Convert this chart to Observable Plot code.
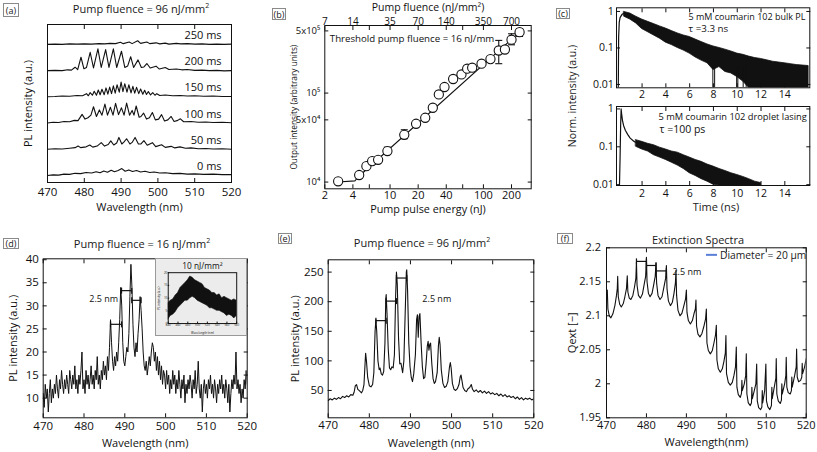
<!DOCTYPE html>
<html>
<head>
<meta charset="utf-8">
<script src="https://cdn.jsdelivr.net/npm/d3@7"></script>
<script src="https://cdn.jsdelivr.net/npm/@observablehq/plot@0.6"></script>
<style>
html,body{margin:0;padding:0;background:#fff;}
#fig{position:relative;width:817px;height:452px;overflow:hidden;font-family:"Open Sans",Lato,sans-serif;color:#1a1a1a;background:#fff;}
.t{position:absolute;white-space:nowrap;transform:translate(-50%,-50%);line-height:1;}
.rot{position:absolute;white-space:nowrap;transform:translate(-50%,-50%) rotate(-90deg);line-height:1;}
.tag{position:absolute;border:1px solid #8a8a8a;font-size:9px;line-height:1;display:flex;align-items:center;justify-content:center;box-sizing:border-box;}
.leg{position:absolute;white-space:nowrap;transform:translateY(-50%);line-height:1;display:flex;align-items:center;}
</style>
</head>
<body>
<div id="fig"></div>
<script>
// ================= DATA =================
// (a) time-resolved spectra, offset traces (wavelength nm, intensity a.u. above own baseline)
const aXTicks = [470, 480, 490, 500, 510, 520];
const aOffsets = [0, 1, 2, 3, 4, 5];
const aLabels = ["0 ms", "50 ms", "100 ms", "150 ms", "200 ms", "250 ms"];
const aTrace0 = [[470,0],[471.5,0.02],[473,0.01],[474.5,0.05],[476,0.04],[477.5,0.08],[479,0.07],[480.5,0.11],[482,0.09],[483.2,0.14],[484.3,0.1],[485.3,0.17],[486.3,0.12],[487.3,0.2],[488.2,0.14],[489.2,0.19],[490.2,0.26],[491.1,0.16],[492.1,0.21],[493.1,0.15],[494.2,0.19],[495.3,0.13],[496.5,0.16],[497.8,0.11],[499,0.13],[500.5,0.09],[502,0.1],[504,0.07],[506,0.08],[508,0.05],[510,0.06],[512.5,0.04],[515,0.05],[517.5,0.03],[520,0.03]];
const aTrace50 = [[470,0],[472,0.02],[474,0.01],[476,0.04],[477.5,0.06],[478.3,0.12],[479,0.06],[480.5,0.09],[481.5,0.16],[482.3,0.08],[483.5,0.12],[484.6,0.25],[485.5,0.12],[486.5,0.18],[487.2,0.32],[488,0.16],[488.8,0.24],[489.4,0.45],[490.2,0.2],[490.8,0.28],[491.5,0.4],[492.4,0.2],[493,0.26],[493.8,0.45],[494.7,0.2],[495.4,0.2],[496.2,0.33],[497.1,0.15],[498.5,0.25],[499.4,0.1],[501,0.17],[502,0.07],[503.6,0.11],[504.6,0.05],[506,0.09],[507.5,0.04],[509,0.05],[511,0.02],[513,0.03],[515,0.01],[517.5,0.02],[520,0]];
const aTrace100 = [[470,0],[471.5,0.03],[473,0.02],[474.5,0.06],[476,0.05],[477.3,0.1],[478.3,0.09],[479.4,0.33],[480.2,0.15],[481,0.2],[481.8,0.3],[482.5,0.62],[483.3,0.25],[484.1,0.5],[484.8,0.3],[485.6,0.72],[486.3,0.3],[487.1,0.6],[487.8,0.3],[488.5,0.75],[489.3,0.32],[490.1,0.58],[490.8,0.3],[491.5,0.76],[492.3,0.3],[493,0.48],[493.5,0.3],[494.1,0.65],[494.9,0.22],[495.4,0.25],[496.1,0.38],[496.9,0.15],[497.7,0.2],[498.5,0.4],[499.3,0.12],[500.2,0.15],[501,0.32],[501.8,0.08],[502.7,0.12],[503.6,0.25],[504.4,0.06],[505.4,0.1],[506.1,0.16],[507,0.05],[509,0.06],[511,0.03],[513,0.04],[515,0.02],[517.5,0.03],[520,0.01]];
const aTrace150 = [[470,0],[472,0.01],[474,0.03],[476,0.02],[478,0.05],[479.5,0.04],[480.6,0.12],[481.1,0.04],[481.6,0.16],[482.2,0.06],[482.7,0.21],[483.3,0.06],[483.8,0.26],[484.3,0.08],[484.8,0.29],[485.4,0.08],[485.9,0.34],[486.4,0.1],[486.9,0.37],[487.4,0.12],[487.9,0.42],[488.4,0.14],[488.9,0.46],[489.5,0.18],[490,0.56],[490.5,0.2],[491,0.5],[491.6,0.18],[492.1,0.46],[492.7,0.15],[493.2,0.4],[493.7,0.14],[494.2,0.36],[494.8,0.12],[495.3,0.3],[495.9,0.1],[496.4,0.25],[496.9,0.09],[497.4,0.2],[498,0.07],[498.6,0.16],[499.2,0.06],[499.7,0.12],[500.5,0.05],[502,0.07],[504,0.04],[506,0.05],[508,0.03],[510,0.04],[512.5,0.02],[515,0.03],[517.5,0.01],[520,0.01]];
const aTrace200 = [[470,0],[472,0.01],[474,0],[475.5,0.03],[476.5,0.02],[477.5,0.13],[478.2,0.04],[479.1,0.51],[479.9,0.07],[480.6,0.12],[481.6,0.7],[482.5,0.1],[483.7,0.83],[484.6,0.12],[485.8,0.8],[486.7,0.12],[487.9,0.83],[488.8,0.12],[490.1,0.74],[491,0.12],[491.8,0.18],[492.6,0.53],[493.4,0.12],[494.6,0.41],[495.5,0.12],[496.2,0.14],[497,0.27],[497.9,0.1],[499.5,0.17],[500.4,0.06],[502,0.12],[503,0.04],[505,0.06],[506.5,0.03],[508,0.04],[510,0.01],[512,0.02],[514,0],[516,0.01],[518,-0.01],[520,0]];
const aTrace250 = [[470,0],[472,0.01],[474,0],[476,0.02],[478,0.01],[480,0.02],[482,0.01],[484,0.03],[485.5,0.02],[487,0.04],[488.5,0.03],[489.8,0.08],[490.6,0.03],[492.2,0.09],[493,0.03],[494.5,0.14],[495.3,0.04],[497,0.09],[497.8,0.03],[499.5,0.06],[500.5,0.02],[502,0.05],[503,0.01],[505,0.04],[506.2,0.02],[508,0.03],[510,0.01],[512,0.02],[514,0],[516,0.01],[518,0],[520,0.01]];

// (b) input-output curve
const bEnergy = [2.78,4.67,5.58,6.43,7.45,9.37,14.2,19.0,23.8,28.7,33.3,38.3,47.4,58.2,67.0,75.8,95.5,119,146,170,200,244];
const bIntensity = [1.02e4,1.2e4,1.51e4,1.72e4,1.78e4,2.23e4,3.4e4,4.52e4,5.28e4,6.84e4,9.66e4,1.17e5,1.44e5,1.62e5,1.88e5,1.93e5,2.14e5,2.41e5,3.01e5,3.09e5,3.98e5,4.84e5];
const bErrEnergy = [5.58, 6.43, 9.37, 14.2, 146, 200, 244];
const bErrLow = [1.42e4, 1.62e4, 2.05e4, 3.07e4, 2.14e5, 3.49e5, 4.33e5];
const bErrHigh = [1.6e4, 1.82e4, 2.47e4, 3.87e4, 3.91e5, 4.64e5, 5.28e5];
const bFitEnergy = [2.78, 4.2, 4.67, 244];
const bFitIntensity = [1.0e4, 1.03e4, 1.17e4, 4.84e5];
const bXTicks = [2, 4, 6, 10, 20, 40, 60, 100, 200];
const bTopLabels = ["7", "14", "21", "35", "70", "140", "210", "350", "700"];
const bYTicks = [1e4, 5e4, 1e5, 5e5];
const bYLabels = ["10\u2074", "5x10\u2074", "10\u2075", "5x10\u2075"];

// (c) decay curves (time ns, normalized intensity) -- noise envelopes
const cTopRise = [[0.0,0.0081],[0.03,0.2],[0.08,0.5],[0.15,0.68],[0.3,0.82],[0.5,0.9]];
const cTopT  = [0.5,1,1.5,2,2.5,3,3.5,4,4.5,5,5.5,6,6.5,7,7.5,8,8.5,9,9.5,10,10.5,11,11.5,12,12.5,13,13.5,14,14.5,15,15.5,16];
const cTopHi = [0.97,0.88,0.72,0.6,0.52,0.45,0.39,0.34,0.29,0.25,0.22,0.2,0.17,0.145,0.125,0.11,0.1,0.09,0.08,0.07,0.065,0.058,0.053,0.05,0.046,0.042,0.04,0.038,0.036,0.034,0.033,0.032];
const cTopLo = [0.72,0.6,0.47,0.33,0.27,0.22,0.18,0.14,0.12,0.1,0.085,0.07,0.055,0.045,0.038,0.025,0.03,0.022,0.02,0.016,0.012,0.008,0.008,0.008,0.008,0.008,0.008,0.008,0.008,0.008,0.008,0.008];
const cTopSpikes = [7.95, 8.1, 9.95, 10.05, 10.5, 10.75];
const cBotRise = [[0.1,0.0095],[0.15,0.05],[0.2,0.4],[0.24,1.0],[0.28,0.75],[0.35,0.5],[0.45,0.36],[0.6,0.27],[0.8,0.21],[1.0,0.17],[1.3,0.14],[1.6,0.125]];
const cBotT  = [1.5,2,2.5,3,3.5,4,4.5,5,5.5,6,6.5,7,7.5,8,8.5,9,9.5,10,10.5,11,11.5,12];
const cBotHi = [0.15,0.135,0.12,0.11,0.095,0.085,0.075,0.07,0.06,0.052,0.045,0.04,0.034,0.03,0.026,0.023,0.02,0.018,0.016,0.014,0.012,0.011];
const cBotLo = [0.1,0.085,0.075,0.06,0.052,0.045,0.038,0.032,0.026,0.02,0.017,0.014,0.012,0.01,0.0095,0.0095,0.0095,0.0095,0.0095,0.0095,0.0095,0.0095];
const cXTicks = [2, 4, 6, 8, 10, 12, 14];
const cYTicks = [0.01, 0.1, 1];

// (d) spectrum at 16 nJ/mm2, sampled every 0.25 nm from 470 nm
const dWlStart = 470, dWlStep = 0.25;
const dValues = [
 11,8,13,10,12,7,11,14,9,12,10,13,11,15,12,10,14,12,16,13,
 11,14,12,15,13,11,16,14,12,15,13,17,12,14,11,15,13,16,20,12,
 14,11,16,13,15,12,14,17,13,15,12,16,14,19,13,15,12,16,14,18,
 15,17,14,19,16,21,27,22,18,16,19,17,20,18,22,27,34,30,22,18,
 17,19,21,20,24,32,39,34,26,21,19,22,20,24,27,32,29,25,20,17,
 16,18,15,17,19,17,20,22,21,18,20,16,19,15,18,14,17,13,16,15,
 12,16,13,15,11,14,12,16,13,15,11,14,12,16,13,10,14,12,15,9,
 13,11,14,12,15,13,10,14,12,16,11,13,18,12,10,13,7,12,14,11,
 13,10,14,12,15,11,13,10,14,12,9,13,11,14,12,15,11,13,10,14,
 12,9,13,7,11,14,12,15,13,20,12,14,11,13,9,12,10,14,12,16,
 13];
const dBrackets = [[486.5,489.2,26],[489.2,491.7,33.3],[491.7,494.0,31.2]];
const dXTicks = [470,480,490,500,510,520];
const dYTicks = [10,15,20,25,30,35,40];
// inset (10 nJ/mm2): noise envelope
const dInWl = [440,445,450,455,460,465,470,475,480,485,490,495,500,505,510,515,520,525,530,535,540,545,550,555,560,565,570,575,580];
const dInHi = [8,9,9.5,11,12,14,15,16,17,18.5,18,17,16.5,16,15.5,14,13.5,13,12,12,11,11.5,10,10.5,10,9.5,9,9.5,9];
const dInLo = [1.5,3,3.5,4.5,6,7,8,9,9,10,10.5,10,9,8.5,8,7.5,7,6,6,5.5,5,5,4.5,4,3,3.5,3,2,3];
const dInXTicks = [440,460,480,500,520,540,560,580];
const dInYTicks = [0,5,10,15,20];

// (e) spectrum at 96 nJ/mm2
const eSpec = [[470,33],[470.5,36],[471,34],[471.5,37],[472,35],[472.5,38],[473,36],[473.5,40],[474,38],[474.5,41],[475,39],[475.5,43],[476,42],[476.3,47],[476.6,58],[476.9,60],[477.2,52],[477.5,50],[477.8,48],[478.1,46],[478.4,50],[478.7,60],[479.0,100],[479.1,113],[479.3,100],[479.6,72],[480.0,58],[480.4,56],[480.8,60],[481.1,80],[481.4,150],[481.6,170],[481.8,150],[482.1,100],[482.4,85],[482.6,88],[482.9,78],[483.2,76],[483.5,82],[483.8,130],[484.0,205],[484.1,212],[484.3,180],[484.6,120],[484.9,88],[485.2,85],[485.5,90],[485.8,88],[486.1,110],[486.4,210],[486.6,250],[486.8,230],[487.1,140],[487.4,95],[487.7,96],[487.9,88],[488.1,80],[488.4,100],[488.8,200],[489.0,250],[489.1,254],[489.3,220],[489.6,130],[489.9,90],[490.2,72],[490.5,65],[490.8,78],[491.2,110],[491.5,170],[491.7,178],[491.9,140],[492.1,175],[492.3,180],[492.6,130],[492.9,90],[493.2,70],[493.5,72],[493.8,95],[494.1,125],[494.3,133],[494.5,118],[494.7,128],[494.9,130],[495.2,95],[495.5,70],[495.8,62],[496.1,65],[496.5,80],[496.8,125],[497.0,140],[497.2,128],[497.5,85],[497.9,62],[498.3,55],[498.7,57],[499.1,65],[499.5,90],[499.7,97],[499.9,88],[500.2,62],[500.6,52],[501.0,50],[501.4,53],[501.8,60],[502.1,73],[502.3,76],[502.5,68],[502.8,55],[503.2,50],[503.6,48],[504.0,53],[504.4,55],[504.8,60],[505.1,52],[505.5,48],[506.0,51],[506.5,47],[507.0,50],[507.5,46],[508.0,49],[508.5,45],[509.0,48],[509.5,44],[510.0,46],[510.5,43],[511.0,45],[511.5,41],[512.0,44],[512.5,40],[513.0,43],[513.5,39],[514.0,41],[514.5,38],[515.0,40],[515.5,36],[516.0,39],[516.5,35],[517.0,38],[517.5,34],[518.0,37],[518.5,35],[519.0,37],[519.5,34],[520.0,36]];
const eBrackets = [[481.6,484.1,168],[484.1,486.6,201],[486.6,489.1,240]];
const eXTicks = [470,480,490,500,510,520];
const eYTicks = [50,100,150,200,250];

// (f) extinction spectrum, D = 20 um
const fSpec = [[470.0,2.125],[470.2,2.138],[470.35,2.11],[470.7,2.1],[471.1,2.097],[471.6,2.103],[472.1,2.115],[472.5,2.13],[472.7,2.14],[472.8,2.158],[472.95,2.128],[473.3,2.117],[473.7,2.113],[474.2,2.118],[474.6,2.128],[475.0,2.14],[475.2,2.159],[475.35,2.135],[475.7,2.126],[476.1,2.124],[476.6,2.13],[477.0,2.142],[477.35,2.155],[477.5,2.179],[477.65,2.145],[478.0,2.13],[478.5,2.126],[479.0,2.132],[479.4,2.145],[479.8,2.158],[480.0,2.186],[480.15,2.15],[480.5,2.133],[480.9,2.128],[481.4,2.133],[481.8,2.145],[482.2,2.158],[482.4,2.178],[482.55,2.148],[482.9,2.13],[483.4,2.124],[483.9,2.128],[484.3,2.14],[484.8,2.155],[485.0,2.174],[485.15,2.14],[485.5,2.122],[486.0,2.115],[486.5,2.12],[486.9,2.133],[487.25,2.148],[487.4,2.167],[487.55,2.13],[487.9,2.108],[488.4,2.1],[488.9,2.104],[489.3,2.113],[489.8,2.125],[490.0,2.138],[490.15,2.105],[490.5,2.093],[491.0,2.088],[491.5,2.093],[491.9,2.103],[492.25,2.11],[492.4,2.123],[492.55,2.085],[492.9,2.073],[493.4,2.069],[493.9,2.074],[494.4,2.085],[494.8,2.095],[495.0,2.11],[495.15,2.06],[495.5,2.049],[496.0,2.044],[496.5,2.049],[496.9,2.06],[497.3,2.072],[497.5,2.086],[497.65,2.035],[498.0,2.022],[498.5,2.017],[499.0,2.022],[499.4,2.033],[499.75,2.045],[499.9,2.071],[500.05,2.015],[500.5,2.002],[501.0,1.998],[501.5,2.002],[501.9,2.012],[502.3,2.025],[502.5,2.054],[502.65,1.995],[503.0,1.984],[503.5,1.98],[503.8,1.986],[503.9,2.005],[504.0,1.99],[504.5,2.0],[504.85,2.012],[505.0,2.044],[505.15,1.985],[505.5,1.972],[506.0,1.968],[506.3,1.972],[506.4,1.995],[506.5,1.978],[507.0,1.99],[507.4,2.0],[507.6,2.029],[507.75,1.975],[508.1,1.965],[508.6,1.962],[508.9,1.966],[509.0,1.99],[509.1,1.972],[509.6,1.99],[509.9,2.029],[510.05,1.975],[510.4,1.966],[510.9,1.962],[511.3,1.968],[511.4,1.995],[511.5,1.978],[512.0,1.995],[512.4,2.008],[512.5,2.037],[512.65,1.985],[513.0,1.975],[513.5,1.971],[513.8,1.976],[513.9,2.0],[514.0,1.985],[514.6,2.0],[514.9,2.012],[515.0,2.039],[515.15,1.995],[515.5,1.987],[516.0,1.985],[516.3,1.99],[516.4,2.01],[516.5,1.995],[517.1,2.012],[517.5,2.025],[517.6,2.051],[517.75,2.01],[518.1,2.003],[518.6,2.005],[518.9,2.01],[519.0,2.03],[519.1,2.015],[519.6,2.025],[520.0,2.037]];
const fBrackets = [[477.5,480.0,2.18],[480.0,482.4,2.174],[482.4,485.0,2.166]];
const fXTicks = [470,480,490,500,510,520];
const fYTicks = [1.95, 2, 2.05, 2.1, 2.15, 2.2];

// ================= DRAWING =================
const FONT = '"Open Sans", Lato, sans-serif';
const INK = "#111";
const fig = document.getElementById("fig");
function st(fs){ return {fontFamily: FONT, fontSize: fs + "px", color: INK, background: "none", overflow: "visible"}; }
function put(el, left, top){ el.style.position = "absolute"; el.style.left = left + "px"; el.style.top = top + "px"; fig.appendChild(el); return el; }
function txt(html, x, y, size, cls){ const d = document.createElement("div"); d.className = cls || "t"; d.innerHTML = html; d.style.left = x + "px"; d.style.top = y + "px"; d.style.fontSize = size + "px"; fig.appendChild(d); return d; }
function tag(s, x, y, w, h){ const d = document.createElement("div"); d.className = "tag"; d.textContent = s; Object.assign(d.style, {left: x+"px", top: y+"px", width: w+"px", height: h+"px"}); fig.appendChild(d); }
const blank = () => "";
function boxAxes({xt, yt, xf = d => String(d), yf = d => String(d), xp = 8, yp = 8, fs = 11, ts = 4, topTicks = true}){
  const m = [Plot.axisX({ticks: xt, tickSize: -ts, tickPadding: xp, tickFormat: xf, label: null, fontSize: fs})];
  if (topTicks) m.push(Plot.axisX({anchor: "top", ticks: xt, tickSize: -ts, tickFormat: blank, label: null}));
  if (yt) {
    m.push(Plot.axisY({ticks: yt, tickSize: -ts, tickPadding: yp, tickFormat: yf, label: null, fontSize: fs}));
    m.push(Plot.axisY({anchor: "right", ticks: yt, tickSize: -ts, tickFormat: blank, label: null}));
  }
  return m;
}
function ylab(s, dx, fs){ return Plot.text([s], {frameAnchor: "left", rotate: -90, dx, textAnchor: "middle", lineAnchor: "middle", fontSize: fs}); }
function xlab(s, dy, fs){ return Plot.text([s], {frameAnchor: "bottom", dy, textAnchor: "middle", lineAnchor: "middle", fontSize: fs}); }
const hbar = {draw(ctx, size){ const w = Math.sqrt(size / Math.PI); ctx.moveTo(-w, 0); ctx.lineTo(w, 0); }};
const vbar = {draw(ctx, size){ const w = Math.sqrt(size / Math.PI); ctx.moveTo(0, -w); ctx.lineTo(0, w); }};
function bracketMarks(br){
  const rows = br.map(([x1, x2, y]) => ({x1, x2, y}));
  const caps = rows.flatMap(r => [{x: r.x1, y: r.y}, {x: r.x2, y: r.y}]);
  return [
    Plot.link(rows, {x1: "x1", x2: "x2", y1: "y", y2: "y", stroke: INK, strokeWidth: 1.2}),
    Plot.dot(caps, {x: "x", y: "y", r: 3, symbol: vbar, stroke: INK, strokeWidth: 1.2, fill: "none"})
  ];
}

// ---------- (a) ----------
const aRows = [aTrace0, aTrace50, aTrace100, aTrace150, aTrace200, aTrace250]
  .flatMap((tr, i) => tr.map(([wl, v]) => ({wl, v: v + aOffsets[i], k: i})));
const aLab = aLabels.map((s, i) => ({s, y: aOffsets[i] + 0.34}));
put(Plot.plot({
  width: 260, height: 200, marginLeft: 47, marginRight: 29, marginTop: 4, marginBottom: 38,
  style: st(11), x: {domain: [470, 520]}, y: {domain: [-0.27, 5.76], axis: null},
  marks: [
    Plot.line(aRows, {x: "wl", y: "v", z: "k", stroke: INK, strokeWidth: 1.1}),
    Plot.frame({stroke: INK}),
    ...boxAxes({xt: aXTicks, xp: 9, fs: 11.5}),
    Plot.text(aLab, {x: 517.3, y: "y", text: "s", textAnchor: "end", fontSize: 11}),
    ylab("PL intensity (a.u.)", -19, 11),
    xlab("Wavelength (nm)", 25, 11)
  ]
}), 0, 20);
txt("Pump fluence = 96 nJ/mm<sup style='font-size:7px'>2</sup>", 141, 8, 11);
tag("(a)", 3, 3, 16, 14);

// ---------- (b) ----------
const bPts = bEnergy.map((e, i) => ({e, v: bIntensity[i]}));
const bErr = bErrEnergy.map((e, i) => ({e, lo: bErrLow[i], hi: bErrHigh[i]}));
const bFit = bFitEnergy.map((e, i) => ({e, v: bFitIntensity[i]}));
put(Plot.plot({
  width: 275, height: 215, marginLeft: 54.3, marginRight: 14.3, marginTop: 25, marginBottom: 26.7,
  style: st(11), x: {type: "log", domain: [2, 325]}, y: {type: "log", domain: [8400, 575000]},
  marks: [
    Plot.line(bFit, {x: "e", y: "v", stroke: INK, strokeWidth: 1.1}),
    Plot.ruleX(bErr, {x: "e", y1: "lo", y2: "hi", stroke: INK, strokeWidth: 1.1}),
    Plot.dot(bErr, {x: "e", y: "lo", r: 3.5, symbol: hbar, stroke: INK, strokeWidth: 1.1, fill: "none"}),
    Plot.dot(bErr, {x: "e", y: "hi", r: 3.5, symbol: hbar, stroke: INK, strokeWidth: 1.1, fill: "none"}),
    Plot.dot(bPts, {x: "e", y: "v", r: 4.6, stroke: INK, strokeWidth: 1.1, fill: "white"}),
    Plot.frame({stroke: INK}),
    Plot.axisX({ticks: bXTicks, tickSize: -4, tickPadding: 6.8, tickFormat: d => String(d), label: null, fontSize: 11}),
    Plot.axisX({anchor: "top", ticks: bXTicks, tickSize: -4, tickPadding: 5, tickFormat: d => bTopLabels[bXTicks.indexOf(d)], label: null, fontSize: 10}),
    Plot.axisY({ticks: bYTicks, tickSize: -4, tickPadding: 8.5, tickFormat: d => bYLabels[bYTicks.indexOf(d)], label: null, fontSize: 9.5}),
    Plot.axisY({anchor: "right", ticks: bYTicks, tickSize: -4, tickFormat: blank, label: null}),
    Plot.text(["Threshold pump fluence = 16 nJ/mm"], {frameAnchor: "top-left", dx: 5, dy: 13, textAnchor: "start", lineAnchor: "middle", fontSize: 9.7}),
    xlab("Pump pulse energy (nJ)", 21, 10.8),
    Plot.text(["Pump fluence (nJ/mm\u00b2)"], {frameAnchor: "top", dy: -18, textAnchor: "middle", lineAnchor: "middle", fontSize: 10.5}),
    ylab("Output intensity (arbitrary units)", -30, 8.3)
  ]
}), 270, 0);
tag("(b)", 272, 8, 14, 12);

// ---------- (c) ----------
const cTopBand = cTopT.map((t, i) => ({t, lo: cTopLo[i], hi: cTopHi[i]}));
const cBotBand = cBotT.map((t, i) => ({t, lo: cBotLo[i], hi: cBotHi[i]}));
const cTopRiseRows = cTopRise.map(([t, v]) => ({t, v}));
const cBotRiseRows = cBotRise.map(([t, v]) => ({t, v}));
put(Plot.plot({
  width: 257, height: 105, marginLeft: 56, marginRight: 7.7, marginTop: 7.3, marginBottom: 17.7,
  style: st(10.5), x: {domain: [-0.15, 16.1]}, y: {type: "log", domain: [0.0081, 1.26]},
  marks: [
    Plot.areaY(cTopBand, {x: "t", y1: "lo", y2: "hi", fill: INK, stroke: INK, strokeWidth: 0.8, clip: true}),
    Plot.line(cTopRiseRows, {x: "t", y: "v", stroke: INK, strokeWidth: 1.2, clip: true}),
    Plot.ruleX(cTopSpikes, {x: d => d, y1: 0.0081, y2: 0.03, stroke: INK, strokeWidth: 1, clip: true}),
    Plot.frame({stroke: INK}),
    ...boxAxes({xt: cXTicks, yt: cYTicks, xp: 6.7, yp: 6.7, fs: 10.5}),
    Plot.text(["5 mM coumarin 102 bulk PL"], {frameAnchor: "top-left", dx: 72, dy: 9.3, textAnchor: "start", lineAnchor: "middle", fontSize: 9}),
    Plot.text(["\u03c4 =3.3 ns"], {frameAnchor: "top-left", dx: 72, dy: 21, textAnchor: "start", lineAnchor: "middle", fontSize: 9.8})
  ]
}), 560, 0);
put(Plot.plot({
  width: 257, height: 117, marginLeft: 56, marginRight: 7.7, marginTop: 8, marginBottom: 30,
  style: st(10.5), x: {domain: [-0.15, 16.1]}, y: {type: "log", domain: [0.0095, 1.16]},
  marks: [
    Plot.areaY(cBotBand, {x: "t", y1: "lo", y2: "hi", fill: INK, stroke: INK, strokeWidth: 0.8, clip: true}),
    Plot.line(cBotRiseRows, {x: "t", y: "v", stroke: INK, strokeWidth: 1.2, clip: true}),
    Plot.frame({stroke: INK}),
    ...boxAxes({xt: cXTicks, yt: cYTicks, xp: 8, yp: 6.7, fs: 10.5}),
    Plot.text(["5 mM coumarin 102 droplet lasing"], {frameAnchor: "top-left", dx: 42, dy: 10.5, textAnchor: "start", lineAnchor: "middle", fontSize: 9.3}),
    Plot.text(["\u03c4 =100 ps"], {frameAnchor: "top-left", dx: 43, dy: 23.5, textAnchor: "start", lineAnchor: "middle", fontSize: 10.5})
  ]
}), 560, 98);
txt("Norm. intensity (a.u.)", 572, 96, 10.5, "rot");
txt("Time (ns)", 716, 206, 11);
tag("(c)", 556, 8, 14, 11);

// ---------- (d) ----------
const dRows = dValues.map((v, i) => ({wl: dWlStart + i * dWlStep, v}));
put(Plot.plot({
  width: 270, height: 202, marginLeft: 42.7, marginRight: 23.3, marginTop: 8.3, marginBottom: 34.7,
  style: st(11), x: {domain: [470, 520]}, y: {domain: [5.74, 40.2]},
  marks: [
    Plot.line(dRows, {x: "wl", y: "v", stroke: INK, strokeWidth: 1, clip: true}),
    ...bracketMarks(dBrackets),
    Plot.frame({stroke: INK}),
    ...boxAxes({xt: dXTicks, yt: dYTicks, xp: 7.7, yp: 8.4, fs: 11.5}),
    Plot.text(["2.5 nm"], {x: 481.3, y: 31.4, textAnchor: "start", fontSize: 9}),
    ylab("PL intensity (a.u.)", -30, 11),
    xlab("Wavelength (nm)", 26, 11)
  ]
}), 0, 250);
// inset
const dInRows = dInWl.map((wl, i) => ({wl, lo: dInLo[i], hi: dInHi[i]}));
const inset = Plot.plot({
  width: 92, height: 78, marginLeft: 12, marginRight: 10, marginTop: 13.5, marginBottom: 12.5,
  style: {...st(3), background: "#ececec"}, x: {domain: [440, 580]}, y: {domain: [0, 20]},
  marks: [
    Plot.areaY(dInRows, {x: "wl", y1: "lo", y2: "hi", fill: INK, stroke: INK, strokeWidth: 0.6, clip: true}),
    Plot.frame({stroke: INK}),
    Plot.axisX({ticks: dInXTicks, tickSize: -1.5, tickPadding: 2, tickFormat: d => String(d), label: null, fontSize: 3}),
    Plot.axisY({ticks: dInYTicks, tickSize: -1.5, tickPadding: 2.5, tickFormat: d => String(d), label: null, fontSize: 3}),
    Plot.text(["10 nJ/mm\u00b2"], {frameAnchor: "top", dy: -7, textAnchor: "middle", lineAnchor: "middle", fontSize: 8.5}),
    xlab("Wavelength (nm)", 9.8, 3),
    ylab("PL intensity (a.u.)", -9, 3)
  ]
});
inset.style.border = "1px solid #999";
inset.style.boxSizing = "border-box";
put(inset, 155, 258);
txt("Pump fluence = 16 nJ/mm<sup style='font-size:7px'>2</sup>", 142, 243, 11);
tag("(d)", 3, 238, 16, 11);

// ---------- (e) ----------
const eRows = eSpec.map(([wl, v]) => ({wl, v}));
put(Plot.plot({
  width: 275, height: 202, marginLeft: 57.7, marginRight: 11.7, marginTop: 9.3, marginBottom: 34.7,
  style: st(11), x: {domain: [470, 520]}, y: {domain: [3.8, 270.8]},
  marks: [
    Plot.line(eRows, {x: "wl", y: "v", stroke: INK, strokeWidth: 1.1, clip: true}),
    ...bracketMarks(eBrackets),
    Plot.frame({stroke: INK}),
    ...boxAxes({xt: eXTicks, yt: eYTicks, xp: 7.4, yp: 8.5, fs: 11.5}),
    Plot.text(["2.5 nm"], {x: 492.9, y: 203.7, textAnchor: "start", fontSize: 9}),
    ylab("PL intensity (a.u.)", -33, 11),
    xlab("Wavelength (nm)", 26, 11)
  ]
}), 270, 250);
txt("Pump fluence = 96 nJ/mm<sup style='font-size:7px'>2</sup>", 422, 242, 11);
tag("(e)", 278, 233, 14, 11);

// ---------- (f) ----------
const fRows = fSpec.map(([wl, q]) => ({wl, q}));
put(Plot.plot({
  width: 272, height: 212, marginLeft: 61, marginRight: 11.3, marginTop: 7.3, marginBottom: 34.7,
  style: st(11), x: {domain: [470, 520]}, y: {domain: [1.95, 2.2]},
  marks: [
    Plot.line(fRows, {x: "wl", y: "q", stroke: INK, strokeWidth: 1.1, clip: true}),
    ...bracketMarks(fBrackets),
    Plot.frame({stroke: INK}),
    ...boxAxes({xt: fXTicks, yt: fYTicks, xp: 7.5, yp: 9.5, fs: 11}),
    Plot.text(["2.5 nm"], {x: 486.5, y: 2.164, textAnchor: "start", fontSize: 9}),
    ylab("Qext [\u2212]", -34, 11),
    xlab("Wavelength(nm)", 25, 11)
  ]
}), 545, 240);
txt("Extinction Spectra", 698, 239, 11);
txt("<span style='display:inline-block;width:11px;border-top:2px solid #5a7fd6;margin-right:3px'></span>Diameter = 20 \u03bcm", 706, 255, 10.3, "leg");
tag("(f)", 557, 233, 16, 11);
</script>
</body>
</html>
